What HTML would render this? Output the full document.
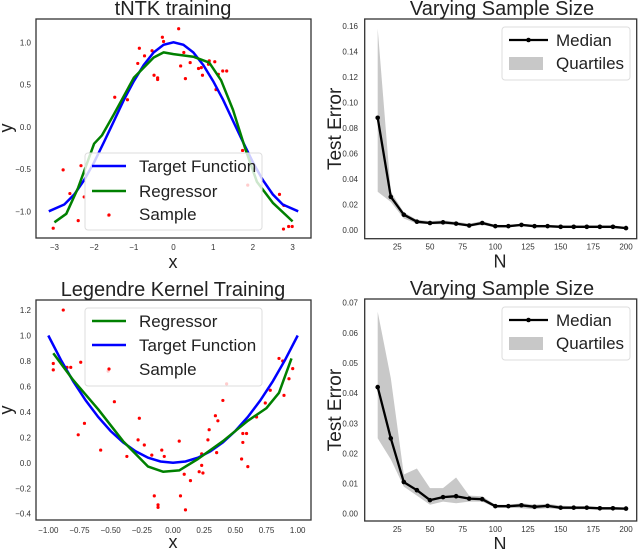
<!DOCTYPE html>
<html><head><meta charset="utf-8"><style>
body{margin:0;background:#fff}
svg{display:block;font-family:"Liberation Sans",sans-serif}
</style></head><body>
<svg id="fig" width="640" height="549" viewBox="0 0 640 549" xmlns="http://www.w3.org/2000/svg"></svg>
<script>
// ---- Panel 1 data (tNTK) ----
const p1TargetX=[-3.14,-2.75,-2.5,-2.25,-2,-1.75,-1.5,-1.25,-1,-0.75,-0.5,-0.25,0,0.25,0.5,0.75,1,1.25,1.5,1.75,2,2.25,2.5,2.75,3.14];
const p1TargetY=[-1,-0.92,-0.80,-0.63,-0.42,-0.18,0.07,0.32,0.54,0.73,0.88,0.97,1,0.97,0.88,0.73,0.54,0.32,0.07,-0.18,-0.42,-0.63,-0.80,-0.92,-1];
const p1RegX=[-3,-2.7,-2.4,-2,-1.8,-1.5,-1,-0.5,-0.25,0,0.5,0.9,1.2,1.5,1.8,2.1,2.5,3];
const p1RegY=[-1.13,-1.03,-0.72,-0.2,-0.1,0.15,0.58,0.82,0.88,0.86,0.83,0.76,0.55,0.2,-0.25,-0.65,-0.9,-1.12];
const p1SampX=[-3.03,-2.78,-2.61,-2.33,-2.25,-2.40,-1.64,-1.48,-1.16,-0.90,-0.86,-0.73,-0.54,-0.49,-0.40,-0.40,-0.28,-0.25,0.13,0.18,0.26,0.30,0.42,0.63,0.70,0.73,0.90,0.88,1.04,1.07,1.13,1.24,1.34,1.74,1.87,2.67,2.78,2.77,2.90,2.99];
const p1SampY=[-1.20,-0.51,-0.79,-0.46,-0.83,-1.11,-1.05,0.35,0.32,0.75,0.93,0.84,0.90,0.61,0.58,0.56,1.06,1.01,1.16,0.72,0.88,0.57,0.76,0.69,0.70,0.61,0.78,0.74,0.77,0.44,0.62,0.66,0.66,-0.28,-0.69,-0.80,-0.93,-1.21,-1.18,-1.18];
const p1XTicks=[-3,-2,-1,0,1,2,3];
const p1YTicks=[-1.0,-0.5,0.0,0.5,1.0];
// ---- Panel 2 data ----
const nVals=[10,20,30,40,50,60,70,80,90,100,110,120,130,140,150,160,170,180,190,200];
const p2Median=[0.088,0.026,0.012,0.0065,0.0055,0.006,0.005,0.0035,0.0055,0.003,0.003,0.004,0.003,0.003,0.0025,0.0025,0.0025,0.0025,0.0025,0.0015];
const p2Upper=[0.158,0.030,0.014,0.008,0.007,0.0075,0.0065,0.005,0.007,0.004,0.004,0.005,0.004,0.004,0.0035,0.0035,0.0035,0.0035,0.0035,0.0025];
const p2Lower=[0.030,0.022,0.009,0.005,0.0045,0.0045,0.004,0.0025,0.004,0.002,0.002,0.003,0.002,0.002,0.0015,0.0015,0.0015,0.0015,0.0015,0.001];
const p2YTicks=[0,0.02,0.04,0.06,0.08,0.10,0.12,0.14,0.16];
const nTicks=[25,50,75,100,125,150,175,200];
// ---- Panel 3 data (Legendre) ----
const p3TargetX=[-1,-0.9,-0.8,-0.7,-0.6,-0.5,-0.4,-0.3,-0.2,-0.1,0,0.1,0.2,0.3,0.4,0.5,0.6,0.7,0.8,0.9,1];
const p3TargetY=[1,0.81,0.64,0.49,0.36,0.25,0.16,0.09,0.04,0.01,0,0.01,0.04,0.09,0.16,0.25,0.36,0.49,0.64,0.81,1];
const p3RegX=[-0.96,-0.8,-0.6,-0.4,-0.2,-0.08,0.05,0.2,0.4,0.6,0.75,0.85,0.95];
const p3RegY=[0.86,0.65,0.42,0.17,-0.03,-0.07,-0.06,0.03,0.17,0.33,0.43,0.55,0.82];
const p3SampX=[-0.88,-0.96,-0.96,-0.85,-0.82,-0.74,-0.52,-0.47,-0.71,-0.76,-0.58,-0.37,-0.27,-0.28,-0.23,-0.17,-0.09,-0.07,-0.15,-0.12,-0.12,0.05,0.06,0.09,0.10,0.14,0.21,0.24,0.23,0.23,0.28,0.29,0.34,0.35,0.36,0.40,0.43,0.55,0.56,0.56,0.59,0.60,0.67,0.74,0.78,0.85,0.88,0.89,0.93,0.96];
const p3SampY=[1.20,0.78,0.73,0.75,0.75,0.79,0.72,0.48,0.31,0.22,0.10,0.05,0.35,0.18,0.14,0.06,0.10,0.05,-0.26,-0.33,-0.35,0.17,-0.26,-0.09,-0.37,-0.14,-0.07,-0.08,-0.02,0.07,0.18,0.26,0.37,0.08,0.33,0.49,0.62,0.03,0.16,0.23,0.23,-0.03,0.36,0.47,0.57,0.82,0.80,0.53,0.66,0.74];
const p3XTicks=[-1.00,-0.75,-0.50,-0.25,0.00,0.25,0.50,0.75,1.00];
const p3YTicks=[-0.4,-0.2,0.0,0.2,0.4,0.6,0.8,1.0,1.2];
// ---- Panel 4 data ----
const p4Median=[0.042,0.025,0.0105,0.0078,0.0045,0.0055,0.0058,0.005,0.0048,0.0025,0.0025,0.0028,0.0023,0.0026,0.002,0.002,0.002,0.0018,0.0018,0.0017];
const p4Upper=[0.067,0.045,0.013,0.015,0.0085,0.0085,0.012,0.006,0.0058,0.003,0.003,0.0035,0.003,0.0033,0.0027,0.0025,0.0025,0.0022,0.0022,0.002];
const p4Lower=[0.025,0.018,0.009,0.006,0.003,0.004,0.0035,0.004,0.004,0.002,0.002,0.0018,0.0015,0.0018,0.0015,0.0015,0.0015,0.0013,0.0013,0.0012];
const p4YTicks=[0,0.01,0.02,0.03,0.04,0.05,0.06,0.07];

const NS='http://www.w3.org/2000/svg';
const svg=document.getElementById('fig');
function mk(tag,attrs,parent,text){const e=document.createElementNS(NS,tag);for(const k in attrs)e.setAttribute(k,attrs[k]);if(text!==undefined)e.textContent=text;(parent||svg).appendChild(e);return e;}
function lin(d0,d1,r0,r1){return v=>r0+(v-d0)*(r1-r0)/(d1-d0);}
function pathD(xs,ys,sx,sy){return xs.map((x,i)=>(i?'L':'M')+sx(x).toFixed(1)+','+sy(ys[i]).toFixed(1)).join(' ');}

function frame(g,L,T,R,B){
  const r=mk('rect',{x:L,y:T,width:R-L,height:B-T,fill:'none',stroke:'#333',"stroke-width":1.3},g);
  
  
}
function xTicks(g,ticks,sx,y,fmt){
  ticks.forEach(t=>{const e=mk('text',{x:sx(t),y:y,"font-size":8,fill:'#333',"text-anchor":'middle'},g,fmt(t));
  
  });
}
function yTicks(g,ticks,sy,x,fmt){
  ticks.forEach(t=>{const e=mk('text',{x:x,y:sy(t)+3,"font-size":8,fill:'#333',"text-anchor":'end'},g,fmt(t));
  
  });
}
function label(g,txt,x,y,size,name,rot){
  const a={x:x,y:y,"font-size":size,fill:'#222',"text-anchor":'middle'};
  if(rot)a.transform='rotate(-90 '+x+' '+y+')';
  const e=mk('text',a,g,txt);
  
  
}
function fmtMinus(t,d){return (t<0?'\u2212':'')+Math.abs(t).toFixed(d);}

// ===== Panel 1 =====
(function(){
  const g=mk('g',{});
  
  
  const sx=lin(0,1,173.5,213.2), sy=lin(0,1,126.8,42.3);
  frame(g,36,19,311,238);
  xTicks(g,p1XTicks,sx,250,t=>fmtMinus(t,0));
  yTicks(g,p1YTicks,sy,31,t=>fmtMinus(t,1));
  label(g,'tNTK training',173,15,20,'chart-title');
  label(g,'x',173,268,18,'x-axis-title');
  label(g,'y',12,128,18,'y-axis-title',true);
  p1SampX.forEach((x,i)=>{const c=mk('circle',{cx:sx(x),cy:sy(p1SampY[i]),r:1.6,fill:'#f00'},g);
    
    });
  const t=mk('path',{d:pathD(p1TargetX,p1TargetY,sx,sy),fill:'none',stroke:'#0000ff',"stroke-width":2.5},g);
  
  
  const r=mk('path',{d:pathD(p1RegX,p1RegY,sx,sy),fill:'none',stroke:'#008000',"stroke-width":2.5,"stroke-linejoin":'round'},g);
  
  
  const lg=mk('g',{},g);
  
  
  mk('rect',{x:85,y:153,width:177,height:77,rx:3,fill:'rgba(255,255,255,0.8)',stroke:'#ddd'},lg);
  mk('line',{x1:92,x2:126,y1:166,y2:166,stroke:'#0000ff',"stroke-width":2.5},lg);
  mk('text',{x:139,y:172,"font-size":17,fill:'#222'},lg,'Target Function');
  mk('line',{x1:92,x2:126,y1:191,y2:191,stroke:'#008000',"stroke-width":2.5},lg);
  mk('text',{x:139,y:197,"font-size":17,fill:'#222'},lg,'Regressor');
  mk('circle',{cx:109,cy:215,r:1.6,fill:'#f00'},lg);
  mk('text',{x:139,y:220,"font-size":17,fill:'#222'},lg,'Sample');
})();

// ===== Panel 3 =====
(function(){
  const g=mk('g',{});
  
  
  const sx=lin(-1,1,48.3,297.7), sy=lin(0,1,462.8,335.5);
  frame(g,36,300,311,520);
  xTicks(g,p3XTicks,sx,533,t=>fmtMinus(t,2));
  yTicks(g,p3YTicks,sy,31,t=>fmtMinus(t,1));
  label(g,'Legendre Kernel Training',173,296,20,'chart-title');
  label(g,'x',173,548,18,'x-axis-title');
  label(g,'y',12,410,18,'y-axis-title',true);
  p3SampX.forEach((x,i)=>{const c=mk('circle',{cx:sx(x),cy:sy(p3SampY[i]),r:1.6,fill:'#f00'},g);
    
    });
  const t=mk('path',{d:pathD(p3TargetX,p3TargetY,sx,sy),fill:'none',stroke:'#0000ff',"stroke-width":2.5},g);
  
  
  const r=mk('path',{d:pathD(p3RegX,p3RegY,sx,sy),fill:'none',stroke:'#008000',"stroke-width":2.5,"stroke-linejoin":'round'},g);
  
  
  const lg=mk('g',{},g);
  
  
  mk('rect',{x:85,y:308,width:177,height:78,rx:3,fill:'rgba(255,255,255,0.8)',stroke:'#ddd'},lg);
  mk('line',{x1:92,x2:126,y1:321,y2:321,stroke:'#008000',"stroke-width":2.5},lg);
  mk('text',{x:139,y:327,"font-size":17,fill:'#222'},lg,'Regressor');
  mk('line',{x1:92,x2:126,y1:345,y2:345,stroke:'#0000ff',"stroke-width":2.5},lg);
  mk('text',{x:139,y:351,"font-size":17,fill:'#222'},lg,'Target Function');
  mk('circle',{cx:109,cy:369,r:1.6,fill:'#f00'},lg);
  mk('text',{x:139,y:375,"font-size":17,fill:'#222'},lg,'Sample');
})();

// ===== Error panels =====
function errPanel(T,B,y0px,ytop,ytopVal,med,up,lo,yt,dec,name){
  const g=mk('g',{});
  
  
  const sx=lin(25,200,397.3,626), sy=lin(0,ytopVal,y0px,ytop);
  frame(g,364.7,T,636.7,B);
  xTicks(g,nTicks,sx,B+11,t=>String(t));
  yTicks(g,yt,sy,358,t=>t.toFixed(dec));
  label(g,'Varying Sample Size',502,T-4,20,'chart-title');
  label(g,'N',500,B+29,18,'x-axis-title');
  label(g,'Test Error',341,(T+B)/2,19,'y-axis-title',true);
  const bandD=nVals.map((n,i)=>(i?'L':'M')+sx(n).toFixed(1)+','+sy(up[i]).toFixed(1)).join(' ')+' '+
    nVals.slice().reverse().map((n,j)=>{const i=nVals.length-1-j;return 'L'+sx(n).toFixed(1)+','+sy(lo[i]).toFixed(1);}).join(' ')+'Z';
  const band=mk('path',{d:bandD,fill:'#c8c8c8',stroke:'none'},g);
  
  
  const ln=mk('path',{d:pathD(nVals,med,sx,sy),fill:'none',stroke:'#000',"stroke-width":2.3,"stroke-linejoin":'round'},g);
  
  
  nVals.forEach((n,i)=>{const c=mk('circle',{cx:sx(n),cy:sy(med[i]),r:2.3,fill:'#000'},g);
    
    });
  const lg=mk('g',{},g);
  
  
  const ly=T+8;
  mk('rect',{x:502,y:ly,width:128,height:53,rx:3,fill:'rgba(255,255,255,0.8)',stroke:'#ddd'},lg);
  mk('line',{x1:509,x2:548,y1:ly+13,y2:ly+13,stroke:'#000',"stroke-width":2.3},lg);
  mk('circle',{cx:528.5,cy:ly+13,r:2.3,fill:'#000'},lg);
  mk('text',{x:556,y:ly+19,"font-size":17,fill:'#222'},lg,'Median');
  mk('rect',{x:509,y:ly+30,width:34,height:13,fill:'#c8c8c8'},lg);
  mk('text',{x:556,y:ly+42,"font-size":17,fill:'#222'},lg,'Quartiles');
}
errPanel(19,238.7,230,26,0.16,p2Median,p2Upper,p2Lower,p2YTicks,2,'sample-size-panel-top');
errPanel(299,521,513.7,302.7,0.07,p4Median,p4Upper,p4Lower,p4YTicks,2,'sample-size-panel-bottom');
</script>
</body></html>
